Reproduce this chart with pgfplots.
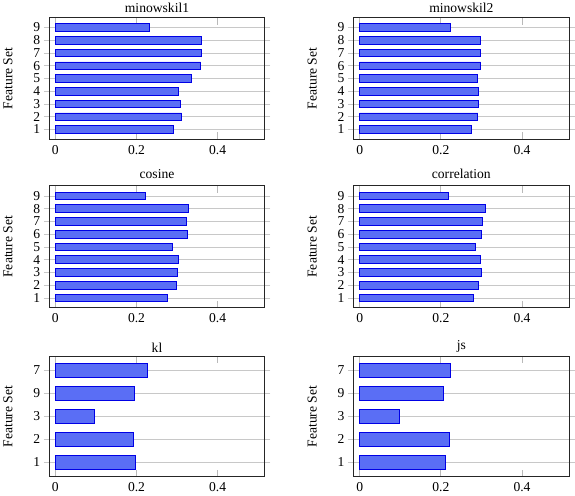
\documentclass[border=0pt]{standalone}
\usepackage{pgfplots}
\pgfplotsset{compat=1.18}
\usepackage{fontspec}
\setmainfont{Liberation Serif}
\definecolor{barfill}{RGB}{90,110,245}
\definecolor{gridc}{RGB}{200,200,200}
\newcommand{\myfs}{\fontsize{13.5}{16}\selectfont}
\pgfplotsset{
  myax/.style={
    scale only axis,
    width=214pt,
    xmin=-0.015, xmax=0.516,
    xtick={0,0.2,0.4},
    /pgf/number format/assume math mode=true,
    xtick align=inside,
    ytick align=outside,
    major tick length=5.5pt,
    x tick style={gridc!80!gray, line width=0.8pt, /pgfplots/major tick length=7pt},
    y tick style={gridc, line width=0.8pt},
    ymajorgrids,
    grid style={gridc, line width=0.8pt},
    axis line style={black!85, line width=0.9pt},
    tick label style={font=\myfs},
    x tick label style={yshift=-2.5pt},
    ylabel={Feature Set},
    every axis y label/.style={at={(axis description cs:-0.192,0.5)}, rotate=90, anchor=center, font=\myfs},
    title style={font=\myfs},
    clip=false,
  },
  topax/.style={myax, height=121pt, ymin=0.23, ymax=9.79, ytick={1,...,9}},
  botax/.style={myax, height=120pt, ymin=-0.64, ymax=4.63, ytick={0,...,4}, yticklabels={1,2,3,9,7}, title style={yshift=-5.7pt}},
  mybar/.style={xbar, bar width=0.6, bar shift=0pt, fill=barfill, draw=blue!90!black, line width=0.8pt},
}
\begin{document}
\begin{tikzpicture}
\begin{axis}[topax, at={(51pt,-16pt)}, anchor=north west, title={minowskil1}, title style={yshift=-5pt}]
\addplot[mybar] coordinates {(0.292,1) (0.311,2) (0.307,3) (0.304,4) (0.336,5) (0.358,6) (0.361,7) (0.359,8) (0.232,9)};
\end{axis}
\begin{axis}[topax, at={(353.3pt,-16pt)}, anchor=north west, title={minowskil2}, title style={yshift=-5pt}]
\addplot[mybar] coordinates {(0.275,1) (0.291,2) (0.293,3) (0.293,4) (0.290,5) (0.298,6) (0.298,7) (0.298,8) (0.224,9)};
\end{axis}
\begin{axis}[topax, at={(51pt,-183.3pt)}, anchor=north west, title={cosine}, title style={yshift=-2.7pt}]
\addplot[mybar] coordinates {(0.277,1) (0.298,2) (0.301,3) (0.303,4) (0.288,5) (0.326,6) (0.323,7) (0.327,8) (0.222,9)};
\end{axis}
\begin{axis}[topax, at={(353.3pt,-183.3pt)}, anchor=north west, title={correlation}, title style={yshift=-2.7pt}]
\addplot[mybar] coordinates {(0.279,1) (0.293,2) (0.300,3) (0.297,4) (0.284,5) (0.300,6) (0.302,7) (0.309,8) (0.219,9)};
\end{axis}
\begin{axis}[botax, at={(51pt,-352.3pt)}, anchor=north west, title={kl}]
\addplot[mybar] coordinates {(0.198,0) (0.193,1) (0.096,2) (0.195,3) (0.226,4)};
\end{axis}
\begin{axis}[botax, at={(353.3pt,-352.3pt)}, anchor=north west, title={js}]
\addplot[mybar] coordinates {(0.211,0) (0.221,1) (0.097,2) (0.206,3) (0.223,4)};
\end{axis}
\end{tikzpicture}
\end{document}
